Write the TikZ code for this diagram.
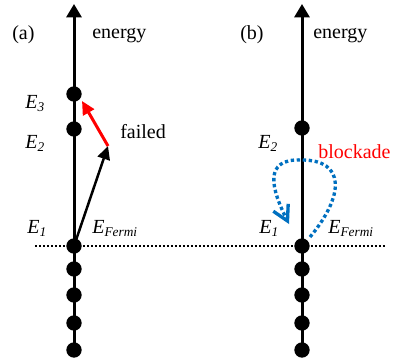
\documentclass[tikz,border=0pt]{standalone}
\usepackage{fontspec}
\setmainfont{Liberation Serif}
\usetikzlibrary{arrows.meta}
\definecolor{blockRed}{RGB}{255,0,0}
\definecolor{blockBlue}{RGB}{0,112,192}

\begin{document}
\begin{tikzpicture}[
    x=0.6pt, y=-0.6pt,
    font=\fontsize{12}{14}\selectfont,
    dot/.style={circle, fill=black, inner sep=0pt, minimum size=9.2pt},
    axis/.style={-{Triangle[length=8pt,width=9pt]}, line width=1.8pt},
    jump/.style={-{Triangle[length=8pt,width=7.5pt]}, line width=1.5pt, draw=#1},
    txt/.style={anchor=base west, inner sep=0pt},
    lvl/.style={txt, font=\fontsize{12}{14}\selectfont\itshape},
    fermi/.style={dash pattern=on 1.2pt off 1.2pt, line width=0.9pt}
]
\useasboundingbox (0,0) rectangle (394,363);
% Fermi level
\coordinate (fl) at (35,246);
\coordinate (fr) at (386,246);
\draw[fermi] (fl) -- (fr);

% (a) single electron level ladder
\coordinate (abot) at (74,350);
\coordinate (atop) at (74,4);
\draw[axis] (abot) -- (atop);
\node[dot] (a3) at (74,94) {};
\node[dot] (a2) at (74,129) {};
\node[dot] (a1) at (74,246) {};
\foreach \y/\n in {269/4,295/5,323/6,350/7}
    \node[dot] (a\n) at (74,\y) {};
\node[txt] (alab) at (12,39) {(a)};
\node[txt] (aen) at (92,38) {energy};
\node[lvl] (aE3) at (25,108) {E\textsubscript{3}};
\node[lvl] (aE2) at (25,148) {E\textsubscript{2}};
\node[lvl] (aE1) at (27,233) {E\textsubscript{1}};
\node[lvl] (aEF) at (92,233) {E\textsubscript{Fermi}};
\node[txt] (afail) at (120,138) {failed};
\coordinate (akink) at (108,146);
\draw[jump=black] (a1.center) -- (akink);
\draw[jump=blockRed, line width=1.8pt] (akink) -- (82,101);

% (b) blockade
\coordinate (bbot) at (302,350);
\coordinate (btop) at (302,4);
\draw[axis] (bbot) -- (btop);
\node[dot] (b2) at (302,128) {};
\node[dot] (b1) at (302,246) {};
\foreach \y/\n in {269/4,295/5,323/6,350/7}
    \node[dot] (b\n) at (302,\y) {};
\node[txt] (blab) at (240,39) {(b)};
\node[txt] (ben) at (313,38) {energy};
\node[lvl] (bE2) at (258,148) {E\textsubscript{2}};
\node[lvl] (bE1) at (259,233) {E\textsubscript{1}};
\node[lvl] (bEF) at (328,233) {E\textsubscript{Fermi}};
\node[txt, text=blockRed] (bblock) at (318,158) {blockade};
\coordinate (bend) at (289,224);
\draw[blockBlue, line width=2pt, dash pattern=on 2pt off 1.6pt,
      -{Straight Barb[length=9pt,width=10pt]}]
    (310,237) .. controls (345,195) and (345,160) .. (302,160)
    .. controls (262,158) and (272,190) .. (bend);
\end{tikzpicture}
\end{document}
